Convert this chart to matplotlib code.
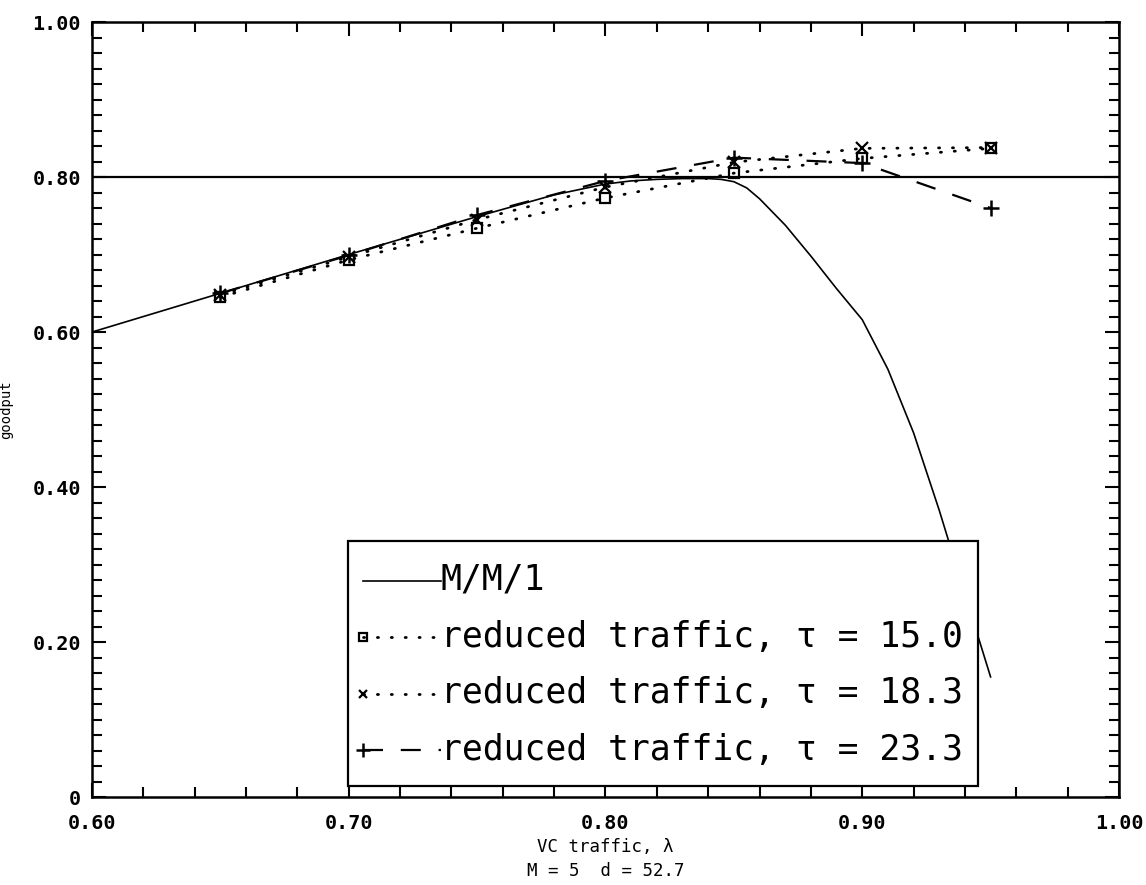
import numpy as np
import matplotlib
matplotlib.use("Agg")
import matplotlib.pyplot as plt
from matplotlib.ticker import MultipleLocator, FuncFormatter

# M/M/1 goodput curve
mm1_x = [0.60, 0.65, 0.70, 0.75, 0.78, 0.80, 0.81, 0.82, 0.83, 0.84, 0.845, 0.85,
         0.855, 0.86, 0.87, 0.88, 0.89, 0.90, 0.91, 0.92, 0.93, 0.94, 0.95]
mm1_y = [0.600, 0.650, 0.700, 0.749, 0.777, 0.791, 0.795, 0.797, 0.798, 0.798, 0.797, 0.794,
         0.786, 0.772, 0.738, 0.698, 0.656, 0.616, 0.552, 0.470, 0.370, 0.262, 0.155]

# reduced traffic runs
lam = [0.65, 0.70, 0.75, 0.80, 0.85, 0.90, 0.95]
tau_15 = [0.645, 0.693, 0.734, 0.773, 0.805, 0.824, 0.837]
tau_18 = [0.648, 0.697, 0.745, 0.787, 0.819, 0.837, 0.838]
tau_23 = [0.650, 0.699, 0.751, 0.795, 0.825, 0.818, 0.760]

mono = "DejaVu Sans Mono"

fig = plt.figure(figsize=(11.46, 8.85), dpi=100)
ax = fig.add_axes([0.0803, 0.0994, 0.8961, 0.8757])

ax.axhline(0.80, color="black", lw=1.6, zorder=1)

l0, = ax.plot(mm1_x, mm1_y, color="black", lw=1.2, label="M/M/1")
l1, = ax.plot(lam, tau_15, color="black", lw=2.0, linestyle=(0, (0.4, 4.6)),
              dash_capstyle="round", marker="s", ms=7, mfc="none", mew=1.6,
              label="reduced traffic, τ = 15.0")
l2, = ax.plot(lam, tau_18, color="black", lw=2.0, linestyle=(0, (0.4, 4.6)),
              dash_capstyle="round", marker="x", ms=8, mew=1.6,
              label="reduced traffic, τ = 18.3")
l3, = ax.plot(lam, tau_23, color="black", lw=1.6, linestyle=(0, (9, 8)),
              marker="+", ms=12, mew=1.8, label="reduced traffic, τ = 23.3")

ax.set_xlim(0.60, 1.00)
ax.set_ylim(0, 1.00)
ax.xaxis.set_major_locator(MultipleLocator(0.10))
ax.xaxis.set_minor_locator(MultipleLocator(0.02))
ax.yaxis.set_major_locator(MultipleLocator(0.20))
ax.yaxis.set_minor_locator(MultipleLocator(0.02))
ax.xaxis.set_major_formatter(FuncFormatter(lambda v, p: "%.2f" % v))
ax.yaxis.set_major_formatter(FuncFormatter(lambda v, p: "0" if abs(v) < 1e-9 else "%.2f" % v))

ax.tick_params(which="both", direction="in", top=True, right=True, width=1.5, colors="black")
ax.tick_params(which="major", length=10)
ax.tick_params(axis="x", which="major", pad=12)
ax.tick_params(axis="y", which="major", pad=8)
ax.tick_params(which="minor", length=7.5)
for lab in ax.get_xticklabels() + ax.get_yticklabels():
    lab.set_fontfamily(mono)
    lab.set_fontweight("bold")
    lab.set_fontsize(14.5)
for s in ax.spines.values():
    s.set_linewidth(1.8)

ax.set_xlabel("VC traffic, λ\nM = 5  d = 52.7", fontfamily=mono, fontsize=12.5,
              linespacing=1.38, labelpad=4)
ax.set_ylabel("goodput", fontfamily=mono, fontsize=10, labelpad=14)

leg = ax.legend(handles=[l0, l1, l2, l3], loc="lower left", bbox_to_anchor=(0.249, 0.014),
                borderaxespad=0, fancybox=False, edgecolor="black", framealpha=1,
                prop={"family": mono, "size": 25}, handlelength=2.25, handletextpad=0.0,
                handleheight=1.64, labelspacing=0.32, borderpad=0.43, markerscale=0.8,
                numpoints=1)
leg.get_frame().set_linewidth(1.6)
# marker at the left end of the legend line, and line level with the text middle
for ln in leg.get_lines():
    ln.set_markevery([0])
    ln.set_ydata(np.asarray(ln.get_ydata()) - 5.5)

fig.savefig("out.png", dpi=100)
